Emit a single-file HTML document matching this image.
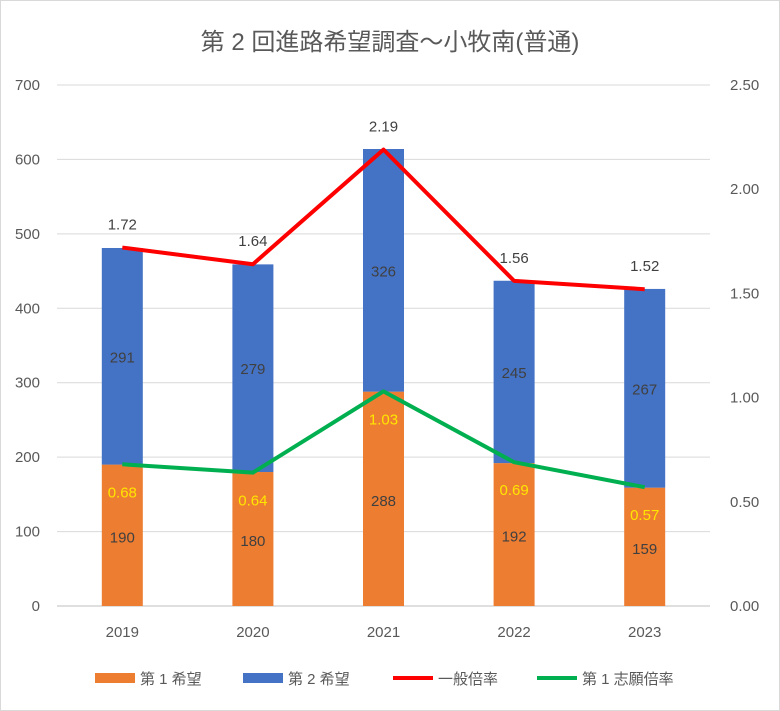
<!DOCTYPE html>
<html><head><meta charset="utf-8">
<style>
body{margin:0;background:#fff;}
svg{display:block;font-family:"Liberation Sans","Noto Sans CJK JP",sans-serif;}
</style></head>
<body>
<svg id="chart" width="780" height="711">
<rect x="0.5" y="0.5" width="779" height="710" fill="#fff" stroke="#d9d9d9"/>
<text x="390" y="50" text-anchor="middle" font-size="24" fill="#595959">第 2 回進路希望調査～小牧南(普通)</text>
<g id="grid"></g><g id="bars"></g><g id="lines"></g><g id="labels"></g><g id="axes"></g>
<g id="legend"></g>
</svg>
<script>
const categories=["2019","2020","2021","2022","2023"];
const first=[190,180,288,192,159];
const second=[291,279,326,245,267];
const general=[1.72,1.64,2.19,1.56,1.52];
const firstRate=[0.68,0.64,1.03,0.69,0.57];
const leftTicks=[0,100,200,300,400,500,600,700];
const rightTicks=["0.00","0.50","1.00","1.50","2.00","2.50"];

const NS="http://www.w3.org/2000/svg";
const X0=57,X1=710,Y0=606,Y1=85;
const band=(X1-X0)/categories.length;
const xc=i=>X0+band*(i+0.5);
const yl=v=>Y0-(v/700)*(Y0-Y1);
const yr=v=>Y0-(v/2.5)*(Y0-Y1);
function mk(tag,attrs,parent,text){const e=document.createElementNS(NS,tag);for(const k in attrs)e.setAttribute(k,attrs[k]);if(text!==undefined)e.textContent=text;document.getElementById(parent).appendChild(e);return e;}

leftTicks.forEach(t=>{
  const l=mk("line",{x1:X0,x2:X1,y1:yl(t),y2:yl(t),stroke:t===0?"#bfbfbf":"#d9d9d9","stroke-width":1},"grid");
  
  
  const tx=mk("text",{x:40,y:yl(t)+5,"text-anchor":"end","font-size":15,fill:"#595959"},"axes",String(t));
  
  
});
rightTicks.forEach(t=>{
  const tx=mk("text",{x:730,y:yr(parseFloat(t))+5,"text-anchor":"start","font-size":15,fill:"#595959"},"axes",t);
  
  
});
const bw=41;
categories.forEach((c,i)=>{
  const x=xc(i);
  const r1=mk("rect",{x:x-bw/2,y:yl(first[i]),width:bw,height:Y0-yl(first[i]),fill:"#ED7D31"},"bars");
  
  
  const tot=first[i]+second[i];
  const r2=mk("rect",{x:x-bw/2,y:yl(tot),width:bw,height:yl(first[i])-yl(tot),fill:"#4472C4"},"bars");
  
  
  const t1=mk("text",{x:x,y:(yl(first[i])+Y0)/2+7,"text-anchor":"middle","font-size":15,fill:"#404040"},"labels",String(first[i]));
  
  
  const t2=mk("text",{x:x,y:(yl(first[i])+yl(tot))/2+6,"text-anchor":"middle","font-size":15,fill:"#404040"},"labels",String(second[i]));
  
  
  const tx=mk("text",{x:x,y:Y0+31,"text-anchor":"middle","font-size":15,fill:"#595959"},"axes",c);
  
  
  const t3=mk("text",{x:x,y:yr(general[i])-18,"text-anchor":"middle","font-size":15,fill:"#404040"},"labels",general[i].toFixed(2));
  
  
  const t4=mk("text",{x:x,y:yr(firstRate[i])+33,"text-anchor":"middle","font-size":15,fill:"#FFE600"},"labels",firstRate[i].toFixed(2));
  
  
});
const pg=mk("polyline",{points:general.map((v,i)=>xc(i)+","+yr(v)).join(" "),fill:"none",stroke:"#FF0000","stroke-width":4,"stroke-linejoin":"round"},"lines");


const pf=mk("polyline",{points:firstRate.map((v,i)=>xc(i)+","+yr(v)).join(" "),fill:"none",stroke:"#00B050","stroke-width":4,"stroke-linejoin":"round"},"lines");



const leg=[["rect","#ED7D31","第 1 希望",95],["rect","#4472C4","第 2 希望",243],["line","#FF0000","一般倍率",393],["line","#00B050","第 1 志願倍率",537]];
leg.forEach(l=>{
  let m;
  if(l[0]==="rect") m=mk("rect",{x:l[3],y:673,width:40,height:10,fill:l[1]},"legend");
  else m=mk("line",{x1:l[3],x2:l[3]+40,y1:678,y2:678,stroke:l[1],"stroke-width":4},"legend");
  
  
  const t=mk("text",{x:l[3]+45,y:684,"font-size":15,fill:"#595959"},"legend",l[2]);
  
  
});
</script>
</body></html>
